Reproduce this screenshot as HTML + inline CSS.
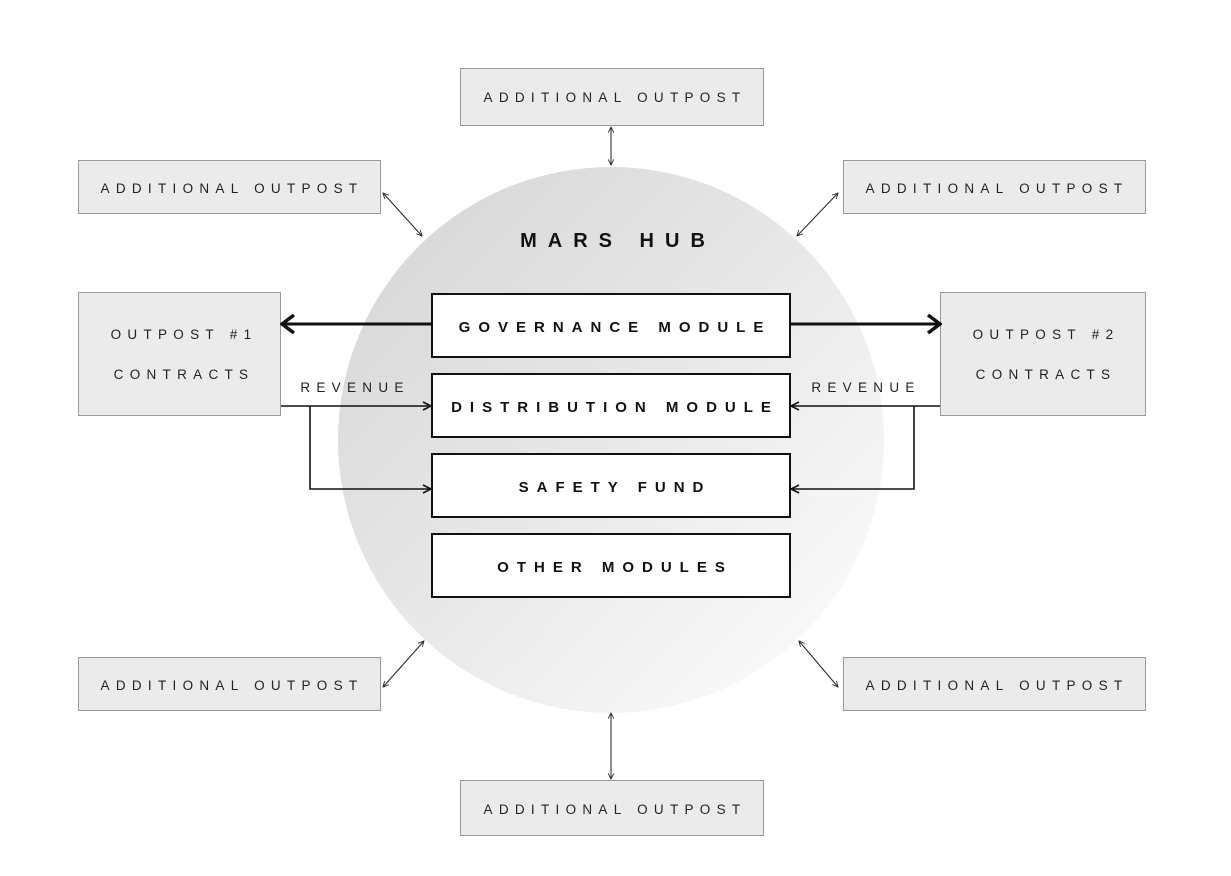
<!DOCTYPE html>
<html><head><style>
html,body{margin:0;padding:0;background:#fff;}
svg text{font-family:"Liberation Sans",sans-serif;}
.l{font-size:13.5px;letter-spacing:6.3px;fill:#222;}
.m{font-size:15px;font-weight:bold;letter-spacing:8px;fill:#111;}
</style></head><body>
<svg width="1231" height="871" viewBox="0 0 1231 871" xmlns="http://www.w3.org/2000/svg">
<defs>
<linearGradient id="g" x1="0" y1="0" x2="1" y2="1">
<stop offset="0" stop-color="#d4d4d4"/><stop offset="0.45" stop-color="#e6e6e6"/><stop offset="1" stop-color="#ffffff"/>
</linearGradient>
<marker id="a" viewBox="0 0 10 10" refX="9" refY="5" markerWidth="7" markerHeight="7" orient="auto-start-reverse" markerUnits="userSpaceOnUse"><path d="M1,1 L9,5 L1,9" fill="none" stroke="#222" stroke-width="1.2"/></marker>
<marker id="b" viewBox="0 0 10 10" refX="9" refY="5" markerWidth="10" markerHeight="12" orient="auto" markerUnits="userSpaceOnUse"><path d="M1,1 L9,5 L1,9" fill="none" stroke="#111" stroke-width="1.6"/></marker>
<marker id="c" viewBox="0 0 20 20" refX="18" refY="10" markerWidth="20" markerHeight="24" orient="auto" markerUnits="userSpaceOnUse"><path d="M6,1 L18,10 L6,19" fill="none" stroke="#111" stroke-width="3.5"/></marker>
</defs>
<circle cx="611" cy="440" r="273" fill="url(#g)"/>
<g fill="#ebebeb" stroke="#999" stroke-width="1">
<rect x="460.5" y="68.5" width="303" height="57"/>
<rect x="78.5" y="160.5" width="302" height="53"/>
<rect x="843.5" y="160.5" width="302" height="53"/>
<rect x="78.5" y="292.5" width="202" height="123"/>
<rect x="940.5" y="292.5" width="205" height="123"/>
<rect x="78.5" y="657.5" width="302" height="53"/>
<rect x="843.5" y="657.5" width="302" height="53"/>
<rect x="460.5" y="780.5" width="303" height="55"/>
</g>
<g fill="#fff" stroke="#111" stroke-width="2">
<rect x="432" y="294" width="358" height="63"/>
<rect x="432" y="374" width="358" height="63"/>
<rect x="432" y="454" width="358" height="63"/>
<rect x="432" y="534" width="358" height="63"/>
</g>
<g class="l" text-anchor="middle">
<text x="615" y="102">ADDITIONAL OUTPOST</text>
<text x="232" y="193">ADDITIONAL OUTPOST</text>
<text x="997" y="193">ADDITIONAL OUTPOST</text>
<text x="232" y="690">ADDITIONAL OUTPOST</text>
<text x="997" y="690">ADDITIONAL OUTPOST</text>
<text x="615" y="814">ADDITIONAL OUTPOST</text>
<text x="184" y="339">OUTPOST #1</text>
<text x="184" y="379">CONTRACTS</text>
<text x="1046" y="339">OUTPOST #2</text>
<text x="1046" y="379">CONTRACTS</text>
<text x="355" y="392">REVENUE</text>
<text x="866" y="392">REVENUE</text>
</g>
<text x="618" y="247" text-anchor="middle" style="font-size:20px;font-weight:bold;letter-spacing:11px;fill:#111">MARS HUB</text>
<g class="m" text-anchor="middle">
<text x="615" y="332">GOVERNANCE MODULE</text>
<text x="615" y="412">DISTRIBUTION MODULE</text>
<text x="615" y="492">SAFETY FUND</text>
<text x="615" y="572">OTHER MODULES</text>
</g>
<g stroke="#222" stroke-width="1" fill="none">
<line x1="611" y1="127" x2="611" y2="165" marker-start="url(#a)" marker-end="url(#a)"/>
<line x1="611" y1="713" x2="611" y2="779" marker-start="url(#a)" marker-end="url(#a)"/>
<line x1="383" y1="193" x2="422" y2="236" marker-start="url(#a)" marker-end="url(#a)"/>
<line x1="838" y1="193" x2="797" y2="236" marker-start="url(#a)" marker-end="url(#a)"/>
<line x1="383" y1="687" x2="424" y2="641" marker-start="url(#a)" marker-end="url(#a)"/>
<line x1="838" y1="687" x2="799" y2="641" marker-start="url(#a)" marker-end="url(#a)"/>
</g>
<g stroke="#111" stroke-width="1.6" fill="none">
<line x1="281" y1="406" x2="431" y2="406" marker-end="url(#b)"/>
<polyline points="310,406 310,489 431,489" marker-end="url(#b)"/>
<line x1="940" y1="406" x2="791" y2="406" marker-end="url(#b)"/>
<polyline points="914,406 914,489 791,489" marker-end="url(#b)"/>
</g>
<g stroke="#111" stroke-width="3" fill="none">
<line x1="432" y1="324" x2="282" y2="324" marker-end="url(#c)"/>
<line x1="790" y1="324" x2="940" y2="324" marker-end="url(#c)"/>
</g>
</svg>
</body></html>
